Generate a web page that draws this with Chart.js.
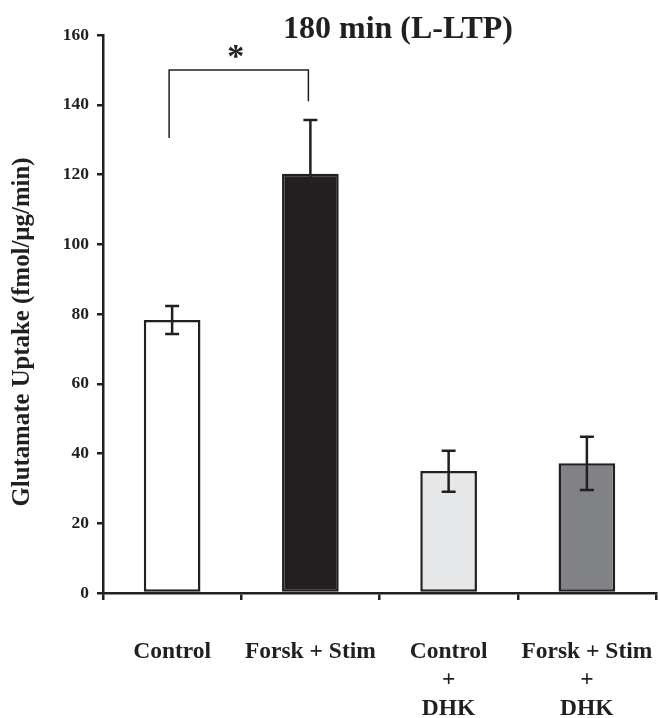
<!DOCTYPE html>
<html lang="en">
<head>
    <meta charset="UTF-8">
    <title>180 min (L-LTP)</title>
    <script src="https://cdn.jsdelivr.net/npm/chart.js"></script>
    <style>
        html, body { margin: 0; padding: 0; background: #fff; }
        #wrap { width: 660px; height: 718px; }
    </style>
</head>
<body>
    <div id="wrap"><canvas id="uptakeChart" width="660" height="718"></canvas></div>

    <script>
        // Data
        const categories = [['Control'], ['Forsk + Stim'], ['Control', '+', 'DHK'], ['Forsk + Stim', '+', 'DHK']];
        const uptake = [78.3, 120.2, 35.0, 37.2];
        const errUpper = [82.3, 135.6, 40.8, 44.8];
        const errLower = [74.3, 104.8, 29.0, 29.5];
        const yTicks = [0, 20, 40, 60, 80, 100, 120, 140, 160];
        const barColors = ['#ffffff', '#231f20', '#e6e7e8', '#808285'];
        // significance bracket: from bar 0 to bar 1, top at 150, legs end at these values
        const bracketBars = [0, 1];
        const bracketTop = 150;
        const bracketLegs = [130.5, 141];

        const ink = '#231f20';
        const serif = '"Liberation Serif", "Times New Roman", serif';

        // error bars, bracket, title and y-axis label
        const extras = {
            id: 'extras',
            afterDatasetsDraw(chart) {
                const ctx = chart.ctx;
                const x = chart.scales.x, y = chart.scales.y;
                ctx.save();
                ctx.strokeStyle = ink;
                ctx.lineWidth = 2.5;
                uptake.forEach((v, i) => {
                    const cx = x.getPixelForValue(i);
                    const yt = y.getPixelForValue(errUpper[i]);
                    const yb = y.getPixelForValue(errLower[i]);
                    ctx.beginPath();
                    ctx.moveTo(cx, yt); ctx.lineTo(cx, yb);
                    ctx.moveTo(cx - 7, yt); ctx.lineTo(cx + 7, yt);
                    ctx.moveTo(cx - 7, yb); ctx.lineTo(cx + 7, yb);
                    ctx.stroke();
                });

                // bracket
                const x0 = x.getPixelForValue(bracketBars[0]) - 3;
                const x1 = x.getPixelForValue(bracketBars[1]) - 2;
                const yTop = y.getPixelForValue(bracketTop);
                ctx.lineWidth = 1.5;
                ctx.beginPath();
                ctx.moveTo(x0, y.getPixelForValue(bracketLegs[0]));
                ctx.lineTo(x0, yTop);
                ctx.lineTo(x1, yTop);
                ctx.lineTo(x1, y.getPixelForValue(bracketLegs[1]));
                ctx.stroke();

                ctx.fillStyle = ink;
                ctx.textAlign = 'center';
                ctx.textBaseline = 'middle';
                ctx.font = 'bold 34px ' + serif;
                ctx.fillText('*', (x0 + x1) / 2 - 3, yTop - 12);

                ctx.font = 'bold 32px ' + serif;
                ctx.fillText('180 min (L-LTP)', 398, 30);

                ctx.translate(23, 332);
                ctx.rotate(-Math.PI / 2);
                ctx.font = 'bold 24.8px ' + serif;
                ctx.fillText('Glutamate Uptake (fmol/\u00b5g/min)', 0, 0);
                ctx.restore();
            }
        };

        new Chart(document.getElementById('uptakeChart'), {
            type: 'bar',
            data: {
                labels: categories,
                datasets: [{
                    data: uptake,
                    backgroundColor: barColors,
                    borderColor: ink,
                    borderWidth: 2.5,
                    borderSkipped: false,
                    categoryPercentage: 0.82,
                    barPercentage: 0.5
                }]
            },
            options: {
                responsive: false,
                animation: false,
                layout: { padding: { top: 35, right: 4, left: 0, bottom: 0 } },
                plugins: { legend: { display: false }, tooltip: { enabled: false } },
                scales: {
                    x: {
                        grid: { offset: true, drawOnChartArea: false, drawTicks: true, tickLength: 7, color: ink, lineWidth: 2.5 },
                        border: { color: ink, width: 2.5 },
                        ticks: {
                            color: ink,
                            padding: 38,
                            maxRotation: 0,
                            autoSkip: false,
                            font: { family: serif, size: 23.5, weight: 'bold', lineHeight: 1.2 }
                        },
                        afterFit(scale) {
                            scale.height = 125;
                            scale.paddingLeft = 0;
                            scale.paddingRight = 0;
                        }
                    },
                    y: {
                        min: 0,
                        max: 160,
                        afterBuildTicks(scale) { scale.ticks = yTicks.map(v => ({ value: v })); },
                        grid: { drawOnChartArea: false, drawTicks: true, tickLength: 6, color: ink, lineWidth: 2.5 },
                        border: { color: ink, width: 2.5 },
                        ticks: {
                            color: ink,
                            padding: 8,
                            font: { family: serif, size: 17.5, weight: 'bold' }
                        },
                        afterFit(scale) {
                            scale.width = 103;
                            scale.paddingTop = 0;
                            scale.paddingBottom = 0;
                        }
                    }
                }
            },
            plugins: [extras]
        });
    </script>
</body>
</html>
